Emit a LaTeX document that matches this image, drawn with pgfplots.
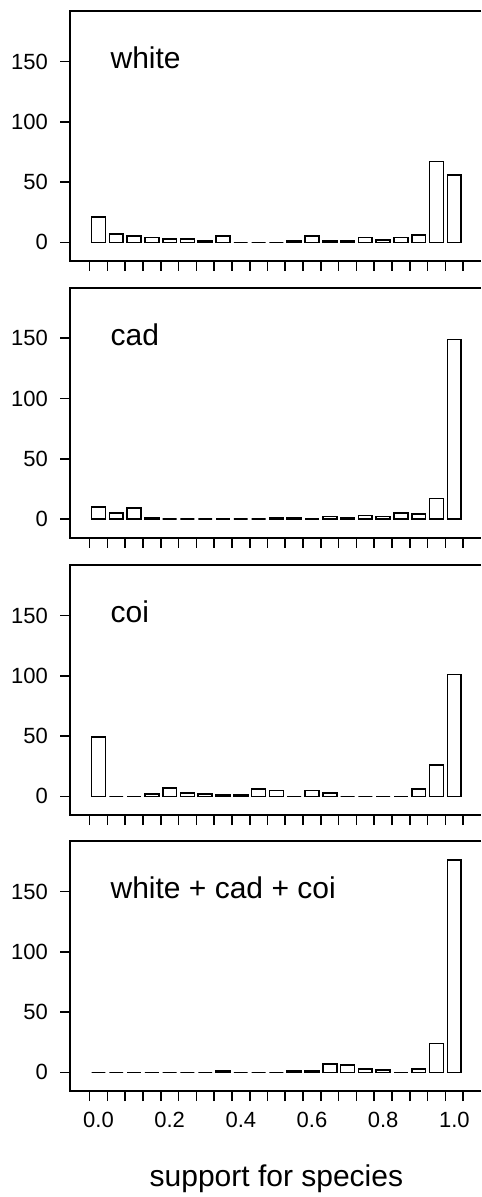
\documentclass[border=0pt]{standalone}
\usepackage{fontspec}
\setmainfont{Liberation Sans}
\usepackage{pgfplots}
\usepackage{pgfplotstable}
\pgfplotsset{compat=1.18}

% counts per support class (bar centres 0, 0.05, ..., 1)
\pgfplotstableread{
x    white cad coi all
0.00 21  10  49  0
0.05 7   5   0   0
0.10 5   9   0   0
0.15 4   1   2   0
0.20 3   0   7   0
0.25 3   0   3   0
0.30 1   0   2   0
0.35 5   0   1   1
0.40 0   0   1   0
0.45 0   0   6   0
0.50 0   1   5   0
0.55 1   1   0   1
0.60 5   0   5   1
0.65 1   2   3   7
0.70 1   1   0   6
0.75 4   3   0   3
0.80 2   2   0   2
0.85 4   5   0   0
0.90 6   4   6   3
0.95 67  17  26  24
1.00 56  149 101 176
}\counts

\pgfplotsset{panel/.style={
  anchor=south west,
  width=205.5pt, height=125pt, scale only axis,
  xmin=-0.08, xmax=1.075, ymin=-15.5, ymax=192,
  axis line style={draw=none},
  ybar, bar width=0.039, bar shift=0pt,
  xtick={-0.025,0.025,0.075,0.125,0.175,0.225,0.275,0.325,0.375,0.425,0.475,
         0.525,0.575,0.625,0.675,0.725,0.775,0.825,0.875,0.925,0.975,1.025},
  xticklabels={},
  ytick={0,50,100,150}, yticklabels={0,50,100,150},
  tick align=outside, tick pos=left,
  major tick length=5pt,
  every tick/.style={black, line width=0.8pt},
  ticklabel style={font=\fontsize{11}{13}\selectfont},
  yticklabel style={xshift=-2.5pt},
  clip=false,
}}
\newcommand{\frameit}{\draw[line width=1pt] (rel axis cs:1,1) -- (rel axis cs:0,1) -- (rel axis cs:0,0) -- (rel axis cs:1,0);}

\begin{document}
\begin{tikzpicture}
\path[use as bounding box] (0,0) rectangle (240.5pt,-598.5pt);

\begin{axis}[panel, at={(35pt,-130.5pt)}]
\addplot[draw=black, fill=white, line width=0.8pt] table[x=x, y=white] {\counts};
\frameit
\node[anchor=base west, inner sep=0pt, font=\fontsize{15}{18}\selectfont] at (axis cs:0.033,144) {white};
\end{axis}

\begin{axis}[panel, at={(35pt,-268.85pt)}]
\addplot[draw=black, fill=white, line width=0.8pt] table[x=x, y=cad] {\counts};
\frameit
\node[anchor=base west, inner sep=0pt, font=\fontsize{15}{18}\selectfont] at (axis cs:0.033,144) {cad};
\end{axis}

\begin{axis}[panel, at={(35pt,-407.5pt)}]
\addplot[draw=black, fill=white, line width=0.8pt] table[x=x, y=coi] {\counts};
\frameit
\node[anchor=base west, inner sep=0pt, font=\fontsize{15}{18}\selectfont] at (axis cs:0.033,144) {coi};
\end{axis}

\begin{axis}[panel, at={(35pt,-545.5pt)},
  extra x ticks={0,0.2,0.4,0.6,0.8,1},
  extra x tick labels={0.0,0.2,0.4,0.6,0.8,1.0},
  extra x tick style={major tick length=0pt, tick label style={yshift=-7pt}}]
\addplot[draw=black, fill=white, line width=0.8pt] table[x=x, y=all] {\counts};
\frameit
\node[anchor=base west, inner sep=0pt, font=\fontsize{15}{18}\selectfont] at (axis cs:0.033,144) {white + cad + coi};
\node[anchor=base, font=\fontsize{15}{18}\selectfont] at (axis cs:0.5,-95) {support for species};
\end{axis}
\end{tikzpicture}
\end{document}
